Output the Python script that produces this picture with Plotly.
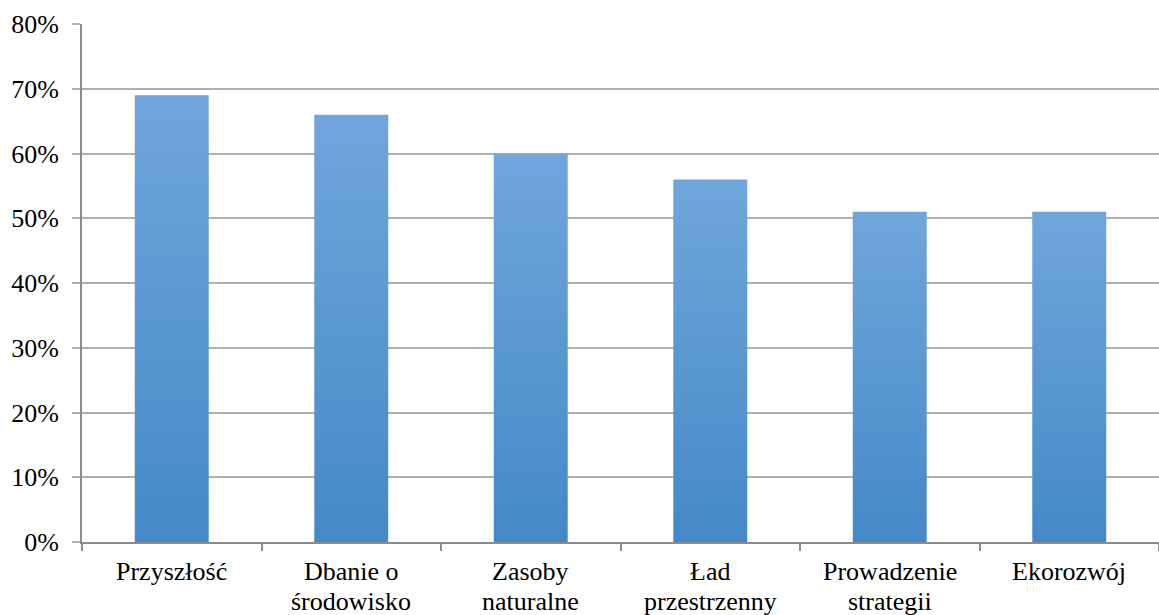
import plotly.graph_objects as go

categories = ["Przyszłość", "Dbanie o<br>środowisko", "Zasoby<br>naturalne",
              "Ład<br>przestrzenny", "Prowadzenie<br>strategii", "Ekorozwój"]
values = [0.69, 0.66, 0.60, 0.56, 0.51, 0.51]
y_ticks = [0.0, 0.1, 0.2, 0.3, 0.4, 0.5, 0.6, 0.7, 0.8]

BAR_HALF = 0.206
FONT = dict(family="Liberation Serif", size=26, color="#000000")
LINE_GAP = 30      # px between lines of a category label
FIRST_SHIFT = -13  # px from the axis to the top of the first label line

fig = go.Figure()

# Each column is a filled polygon so it can carry a vertical gradient
for i, v in enumerate(values):
    fig.add_trace(go.Scatter(
        x=[i - BAR_HALF, i + BAR_HALF, i + BAR_HALF, i - BAR_HALF, i - BAR_HALF],
        y=[0, 0, v, v, 0],
        mode="lines",
        line=dict(width=0),
        fill="toself",
        fillgradient=dict(type="vertical",
                          colorscale=[[0, "#4489C8"], [1, "#70A6DB"]]),
        hoverinfo="skip",
        showlegend=False,
    ))

# Category labels, one annotation per line for tighter line spacing
for i, label in enumerate(categories):
    for k, line in enumerate(label.split("<br>")):
        fig.add_annotation(
            x=i, xref="x", y=0, yref="y",
            text=line, showarrow=False,
            xanchor="center", yanchor="top",
            yshift=FIRST_SHIFT - k * LINE_GAP,
            font=FONT,
        )

fig.update_layout(
    width=1159, height=615,
    margin=dict(l=82, r=0, t=24, b=73),
    paper_bgcolor="white", plot_bgcolor="white",
    font=FONT,
    showlegend=False,
)

fig.update_xaxes(
    range=[-0.5, 5.5],
    automargin=False,
    tickmode="array", tickvals=list(range(len(categories))),
    showticklabels=False,
    ticks="", showgrid=False, zeroline=False,
    showline=True, linecolor="#8C8C8C", linewidth=2,
    minor=dict(tickmode="array", tickvals=[k - 0.5 for k in range(len(categories) + 1)],
               ticks="outside", ticklen=7, tickwidth=2, tickcolor="#8C8C8C", showgrid=False),
)

fig.update_yaxes(
    range=[0, 0.8],
    automargin=False,
    tickmode="array", tickvals=y_ticks, tickformat=".0%",
    showgrid=True, gridcolor="#B0B0B0", gridwidth=2,
    zeroline=False,
    showline=True, linecolor="#8C8C8C", linewidth=2,
    ticks="outside", ticklen=8, tickwidth=2, tickcolor="#B0B0B0",
    ticklabelstandoff=8,
    tickfont=FONT,
)

fig.write_html("out.html")
